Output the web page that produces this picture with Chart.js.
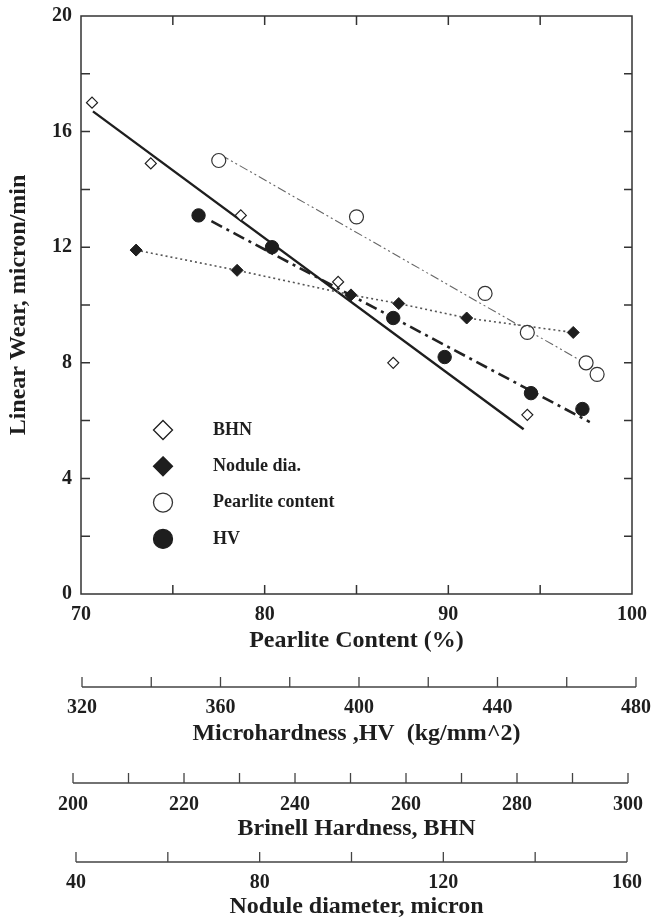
<!DOCTYPE html>
<html>
<head>
<meta charset="utf-8">
<title>Linear wear vs pearlite content</title>
<script src="https://cdn.jsdelivr.net/npm/chart.js@4.4.0/dist/chart.umd.min.js"></script>
<style>
  body { margin: 0; background: #fff; }
  canvas { display: block; }
</style>
</head>
<body>
<canvas id="wearChart" width="652" height="917"></canvas>
<script>
// values (x = pearlite %, y = linear wear, micron/min)
const bhnX = [70.6, 73.8, 78.7, 84.0, 87.0, 94.3];
const bhnY = [17.0, 14.9, 13.1, 10.8, 8.0, 6.2];
const noduleX = [73.0, 78.5, 84.7, 87.3, 91.0, 96.8];
const noduleY = [11.9, 11.2, 10.35, 10.05, 9.55, 9.05];
const pearliteX = [77.5, 85.0, 92.0, 94.3, 97.5, 98.1];
const pearliteY = [15.0, 13.05, 10.4, 9.05, 8.0, 7.6];
const hvX = [76.4, 80.4, 87.0, 89.8, 94.5, 97.3];
const hvY = [13.1, 12.0, 9.55, 8.2, 6.95, 6.4];

// fitted lines, end points
const bhnFitX = [70.65, 94.1];
const bhnFitY = [16.7, 5.7];
const hvFitX = [77.1, 97.7];
const hvFitY = [12.9, 5.95];
const pearliteFitX = [77.6, 98.1];
const pearliteFitY = [15.2, 7.75];

// axes
const pearliteTicks = [70, 80, 90, 100];
const pearliteMinor = [75, 80, 85, 90, 95];
const wearTicks = [0, 4, 8, 12, 16, 20];
const wearMinor = [2, 4, 6, 8, 10, 12, 14, 16, 18];
const hvTicks = [320, 340, 360, 380, 400, 420, 440, 460, 480];
const hvLabels = [320, 360, 400, 440, 480];
const bhnTicks = [200, 210, 220, 230, 240, 250, 260, 270, 280, 290, 300];
const bhnLabels = [200, 220, 240, 260, 280, 300];
const noduleTicks = [40, 60, 80, 100, 120, 140, 160];
const noduleLabels = [40, 80, 120, 160];

const legendNames = ['BHN', 'Nodule dia.', 'Pearlite content', 'HV'];

const ink = '#1e1e1e';
const serif = '"Liberation Serif", "Times New Roman", serif';
const tickFont = { family: serif, size: 20, weight: 'bold' };
const titleFont = { family: serif, size: 24, weight: 'bold' };

function pts(xs, ys) {
    return xs.map((x, i) => ({ x: x, y: ys[i] }));
}

function setTicks(list) {
    return function(scale) {
        scale.ticks = list.map(v => ({ value: v }));
    };
}

function fixHeight(h) {
    return function(scale) {
        scale.height = h;
        scale.paddingLeft = 0;
        scale.paddingRight = 0;
    };
}

function onlyLabels(list) {
    return function(value) {
        return list.includes(value) ? String(value) : '';
    };
}

function drawMarker(ctx, style, x, y, r) {
    ctx.beginPath();
    if (style === 'rectRot') {
        ctx.moveTo(x, y - r);
        ctx.lineTo(x + r, y);
        ctx.lineTo(x, y + r);
        ctx.lineTo(x - r, y);
        ctx.closePath();
    } else {
        ctx.arc(x, y, r, 0, Math.PI * 2);
    }
    ctx.fill();
    ctx.stroke();
}

// frame with inward ticks, plus the extra scales drawn as a ruler with ticks pointing up
const paperAxes = {
    id: 'paperAxes',
    afterDraw(chart) {
        const ctx = chart.ctx;
        const a = chart.chartArea;
        const sx = chart.scales.x;
        const sy = chart.scales.y;
        ctx.save();
        ctx.strokeStyle = '#333';
        ctx.lineWidth = 1.5;
        ctx.strokeRect(a.left, a.top, a.right - a.left, a.bottom - a.top);
        ctx.beginPath();
        pearliteMinor.forEach(v => {
            const px = sx.getPixelForValue(v);
            ctx.moveTo(px, a.bottom); ctx.lineTo(px, a.bottom - 9);
            ctx.moveTo(px, a.top); ctx.lineTo(px, a.top + 9);
        });
        wearMinor.forEach(v => {
            const py = sy.getPixelForValue(v);
            ctx.moveTo(a.left, py); ctx.lineTo(a.left + 9, py);
            ctx.moveTo(a.right, py); ctx.lineTo(a.right - 8, py);
        });
        ctx.stroke();

        ctx.lineWidth = 1.3;
        ctx.strokeStyle = '#444';
        ['xHV', 'xBHN', 'xNod'].forEach(id => {
            const s = chart.scales[id];
            const base = s.top + 10;
            const vals = s.ticks.map(t => t.value);
            ctx.beginPath();
            ctx.moveTo(s.getPixelForValue(vals[0]), base);
            ctx.lineTo(s.getPixelForValue(vals[vals.length - 1]), base);
            vals.forEach(v => {
                const px = s.getPixelForValue(v);
                ctx.moveTo(px, base);
                ctx.lineTo(px, base - 10);
            });
            ctx.stroke();
        });
        ctx.restore();
    }
};

// legend inside the plot, lower left
const keyBox = {
    id: 'keyBox',
    afterDraw(chart) {
        const ctx = chart.ctx;
        const a = chart.chartArea;
        ctx.save();
        ctx.font = 'bold 18px ' + serif;
        ctx.textBaseline = 'middle';
        legendNames.forEach((name, i) => {
            const ds = chart.data.datasets[i];
            const cx = a.left + 82;
            const cy = 430 + i * 36.3;
            ctx.fillStyle = ds.pointBackgroundColor;
            ctx.strokeStyle = ds.pointBorderColor;
            ctx.lineWidth = 1.3;
            drawMarker(ctx, ds.pointStyle, cx, cy, 9.5);
            ctx.fillStyle = ink;
            ctx.fillText(name, a.left + 132, cy);
        });
        ctx.restore();
    }
};

const ctx = document.getElementById('wearChart').getContext('2d');
const wearChart = new Chart(ctx, {
    type: 'scatter',
    data: {
        datasets: [
            {
                label: 'BHN',
                data: pts(bhnX, bhnY),
                pointStyle: 'rectRot',
                pointRadius: 5.5,
                pointBackgroundColor: '#fff',
                pointBorderColor: ink,
                pointBorderWidth: 1.2,
                showLine: false,
                order: 0
            },
            {
                label: 'Nodule dia.',
                data: pts(noduleX, noduleY),
                pointStyle: 'rectRot',
                pointRadius: 6,
                pointBackgroundColor: ink,
                pointBorderColor: ink,
                pointBorderWidth: 1,
                showLine: true,
                borderColor: '#555',
                borderWidth: 1.6,
                borderDash: [2, 3],
                order: 0
            },
            {
                label: 'Pearlite content',
                data: pts(pearliteX, pearliteY),
                pointStyle: 'circle',
                pointRadius: 7,
                pointBackgroundColor: '#fff',
                pointBorderColor: '#333',
                pointBorderWidth: 1.2,
                showLine: false,
                order: 0
            },
            {
                label: 'HV',
                data: pts(hvX, hvY),
                pointStyle: 'circle',
                pointRadius: 6.7,
                pointBackgroundColor: ink,
                pointBorderColor: ink,
                pointBorderWidth: 1,
                showLine: false,
                order: 0
            },
            {
                label: 'BHN fit',
                data: pts(bhnFitX, bhnFitY),
                showLine: true,
                pointRadius: 0,
                borderColor: ink,
                borderWidth: 2.4,
                order: 1
            },
            {
                label: 'HV fit',
                data: pts(hvFitX, hvFitY),
                showLine: true,
                pointRadius: 0,
                borderColor: '#222',
                borderWidth: 2.6,
                borderDash: [12, 5, 3, 5],
                order: 1
            },
            {
                label: 'Pearlite fit',
                data: pts(pearliteFitX, pearliteFitY),
                showLine: true,
                pointRadius: 0,
                borderColor: '#666',
                borderWidth: 1.1,
                borderDash: [9, 3, 2, 3, 2, 3],
                order: 1
            }
        ]
    },
    options: {
        responsive: false,
        animation: false,
        events: [],
        layout: { padding: { top: 16, right: 20, bottom: 0, left: 0 } },
        plugins: {
            legend: { display: false },
            tooltip: { enabled: false }
        },
        scales: {
            x: {
                type: 'linear',
                position: 'bottom',
                weight: 0,
                min: 70,
                max: 100,
                afterBuildTicks: setTicks(pearliteTicks),
                afterFit: fixHeight(83),
                grid: { display: false, drawTicks: false, tickLength: 0 },
                border: { display: false },
                ticks: { padding: 9, autoSkip: false, maxRotation: 0, font: tickFont, color: ink },
                title: { display: true, text: 'Pearlite Content (%)', font: titleFont, color: ink, padding: { top: 0, bottom: 22 } }
            },
            xHV: {
                type: 'linear',
                position: 'bottom',
                weight: 1,
                min: 319.71,
                max: 478.85,
                afterBuildTicks: setTicks(hvTicks),
                afterFit: fixHeight(96),
                grid: { display: false, drawTicks: false, tickLength: 0 },
                border: { display: false },
                ticks: { padding: 19, autoSkip: false, maxRotation: 0, font: tickFont, color: ink, callback: onlyLabels(hvLabels) },
                title: { display: true, text: 'Microhardness ,HV  (kg/mm^2)', font: titleFont, color: ink, padding: { top: 0, bottom: 24.6 } }
            },
            xBHN: {
                type: 'linear',
                position: 'bottom',
                weight: 2,
                min: 201.44,
                max: 300.72,
                afterBuildTicks: setTicks(bhnTicks),
                afterFit: fixHeight(79),
                grid: { display: false, drawTicks: false, tickLength: 0 },
                border: { display: false },
                ticks: { padding: 20, autoSkip: false, maxRotation: 0, font: tickFont, color: ink, callback: onlyLabels(bhnLabels) },
                title: { display: true, text: 'Brinell Hardness, BHN', font: titleFont, color: ink, padding: { top: 0, bottom: 8.6 } }
            },
            xNod: {
                type: 'linear',
                position: 'bottom',
                weight: 3,
                min: 41.09,
                max: 161.09,
                afterBuildTicks: setTicks(noduleTicks),
                afterFit: fixHeight(65),
                grid: { display: false, drawTicks: false, tickLength: 0 },
                border: { display: false },
                ticks: { padding: 19, autoSkip: false, maxRotation: 0, font: tickFont, color: ink, callback: onlyLabels(noduleLabels) },
                title: { display: true, text: 'Nodule diameter, micron', font: titleFont, color: ink, padding: { top: 0, bottom: -4.4 } }
            },
            y: {
                type: 'linear',
                min: 0,
                max: 20,
                afterBuildTicks: setTicks(wearTicks),
                afterFit: function(scale) {
                    scale.width = 81;
                    scale.paddingTop = 0;
                    scale.paddingBottom = 0;
                },
                grid: { display: false, drawTicks: false, tickLength: 0 },
                border: { display: false },
                ticks: { padding: 9, font: tickFont, color: ink },
                title: { display: true, text: 'Linear Wear, micron/min', font: titleFont, color: ink, padding: { top: 4, bottom: 0 } }
            }
        }
    },
    plugins: [paperAxes, keyBox]
});
</script>
</body>
</html>
